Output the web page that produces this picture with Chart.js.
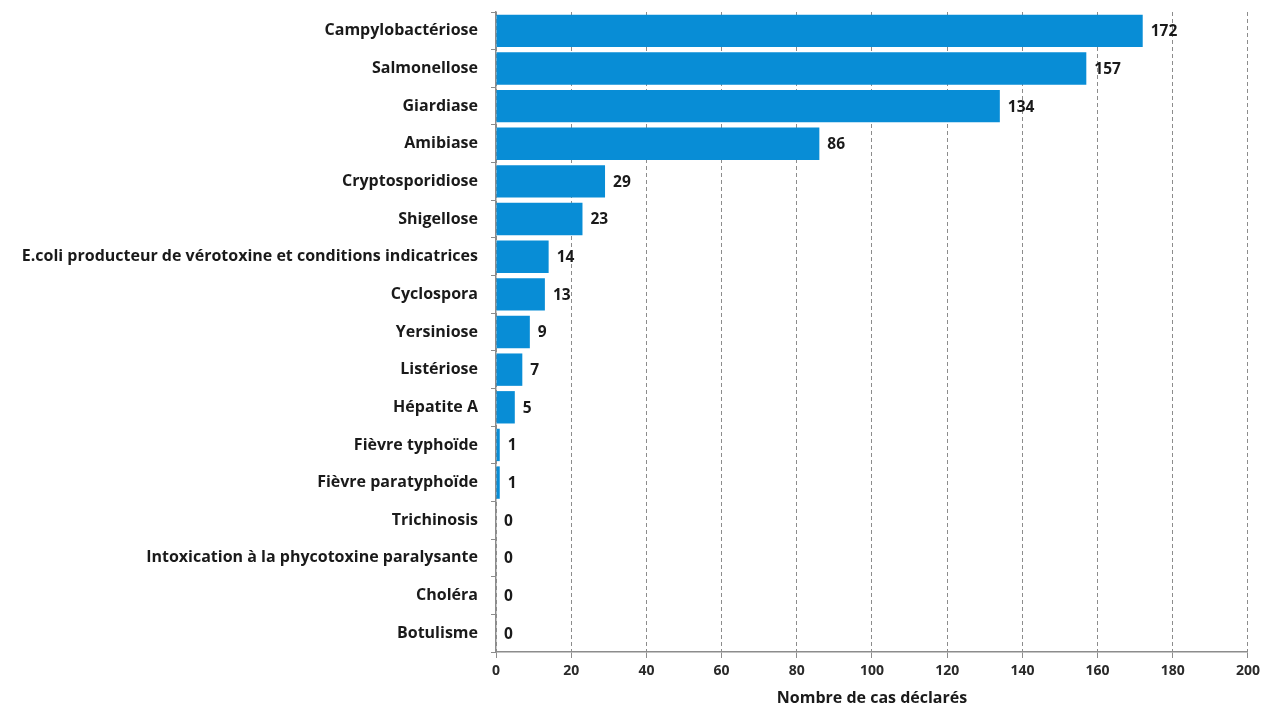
<!DOCTYPE html>
<html>
<head>
<meta charset="utf-8">
<script src="https://cdn.jsdelivr.net/npm/chart.js@4/dist/chart.umd.min.js"></script>
<style>
  html, body { margin: 0; padding: 0; background: #fff; }
  #wrap { width: 1265px; height: 708px; }
</style>
</head>
<body>
<div id="wrap"><canvas id="myChart"></canvas></div>
<script>
// categories, top to bottom
const diseases = [
  "Campylobactériose", "Salmonellose", "Giardiase", "Amibiase",
  "Cryptosporidiose", "Shigellose",
  "E.coli producteur de vérotoxine et conditions indicatrices",
  "Cyclospora", "Yersiniose", "Listériose", "Hépatite A",
  "Fièvre typhoïde", "Fièvre paratyphoïde", "Trichinosis",
  "Intoxication à la phycotoxine paralysante", "Choléra", "Botulisme"
];
const cases = [172, 157, 134, 86, 29, 23, 14, 13, 9, 7, 5, 1, 1, 0, 0, 0, 0];
const xTicks = [0, 20, 40, 60, 80, 100, 120, 140, 160, 180, 200];

const fontFam = "'Open Sans', 'Liberation Sans', sans-serif";

// draws the value next to each bar
const valueLabels = {
  id: "valueLabels",
  afterDatasetsDraw(chart) {
    const ctx = chart.ctx;
    const meta = chart.getDatasetMeta(0);
    ctx.save();
    ctx.font = "bold 15.5px " + fontFam;
    ctx.fillStyle = "#1a1a1a";
    ctx.textAlign = "left";
    ctx.textBaseline = "middle";
    meta.data.forEach((bar, i) => {
      ctx.fillText(String(cases[i]), bar.x + 8, bar.y + 1);
    });
    ctx.restore();
  }
};

let ctx = document.getElementById("myChart").getContext("2d");
let chart = new Chart(ctx, {
  type: "bar",
  data: {
    labels: diseases,
    datasets: [{
      data: cases,
      backgroundColor: "#088dd6",
      borderWidth: 0,
      barPercentage: 0.86,
      categoryPercentage: 1.0
    }]
  },
  options: {
    indexAxis: "y",
    responsive: true,
    maintainAspectRatio: false,
    animation: false,
    layout: { padding: { top: 12, right: 11, left: 0, bottom: 0 } },
    plugins: {
      legend: { display: false },
      tooltip: { enabled: false }
    },
    scales: {
      x: {
        min: 0,
        max: 200,
        afterBuildTicks(scale) {
          scale.ticks = xTicks.map(v => ({ value: v }));
        },
        afterFit(scale) { scale.height = 56; },
        grid: {
          color: "#8c8c8c",
          lineWidth: 1,
          tickLength: 6,
          tickColor: "#8c8c8c",
          tickBorderDash: []
        },
        border: { display: true, color: "#8c8c8c", width: 1.5, dash: [4, 3] },
        ticks: {
          color: "#2a2a2a",
          padding: 5,
          font: { family: fontFam, size: 14, weight: "bold" }
        },
        title: {
          display: true,
          text: "Nombre de cas déclarés",
          color: "#1a1a1a",
          padding: { top: 1, bottom: 0 },
          font: { family: fontFam, size: 16, weight: "bold" }
        }
      },
      y: {
        afterFit(scale) {
          scale.width = 496;
          scale.paddingTop = 0;
          scale.paddingBottom = 0;
        },
        grid: {
          drawOnChartArea: false,
          drawTicks: true,
          tickLength: 5,
          color: "#8c8c8c",
          offset: true
        },
        border: { display: true, color: "#8c8c8c", width: 1.5 },
        ticks: {
          color: "#1a1a1a",
          padding: 13,
          autoSkip: false,
          font: { family: fontFam, size: 16, weight: "bold" }
        }
      }
    }
  },
  plugins: [valueLabels]
});
</script>
</body>
</html>
